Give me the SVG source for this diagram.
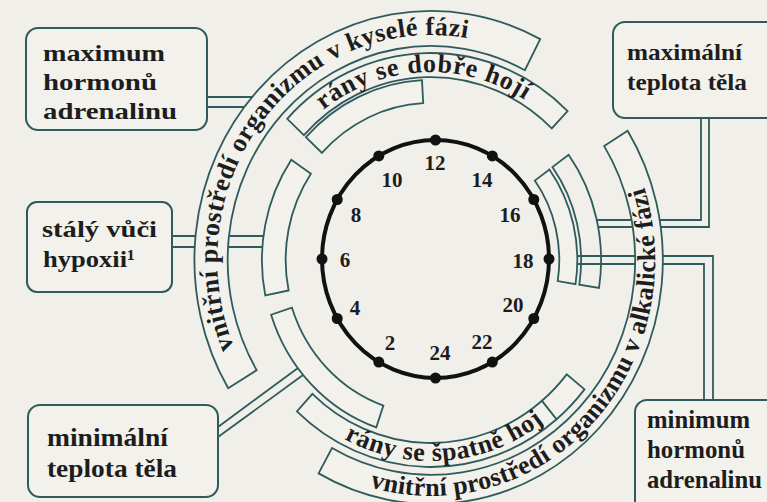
<svg xmlns="http://www.w3.org/2000/svg" width="767" height="502" viewBox="0 0 767 502">
<style>
.bg{fill:#f0efe9}
.box{fill:#f2f1eb;stroke:#2f5b5d;stroke-width:2}
.band{fill:#f2f1eb;stroke:#2f5b5d;stroke-width:1.8}
.open{fill:none;stroke:#2f5b5d;stroke-width:1.8}
.pipe{fill:none;stroke:#2f5b5d;stroke-width:1.8}
.bt{font-family:"Liberation Serif","Times New Roman",serif;font-weight:bold;fill:#1d1d1d}
.arc{font-family:"Liberation Serif","Times New Roman",serif;font-weight:bold;fill:#1d1d1d}
.hr{font-family:"Liberation Serif","Times New Roman",serif;font-weight:bold;font-size:21px;fill:#1d1d1d;text-anchor:middle}
.clk{fill:none;stroke:#111;stroke-width:4}
.dot{fill:#111}
</style>
<defs>
<path id="tpA" d="M239.7,360.4 A213.75,225 0 0 1 480.9,41.2"/>
<path id="tpA2" d="M358.0,483.1 A224.2,236 0 0 0 640.3,175.4"/>
<path id="tpB" d="M322.0,111.1 A178.6,188 0 0 1 526.7,101.3"/>
<path id="tpB2" d="M348.2,441.1 A190.95,201 0 0 0 546.7,419.9"/>
</defs>
<rect class="bg" x="0" y="0" width="767" height="502"/>

<g id="connectors">
<path class="pipe" d="M207,97 H262 M207,107 H262"/>
<path class="pipe" d="M172,236 H264 M172,247 H264"/>
<path class="pipe" d="M701,118 V220 H597 M709,118 V227 H598"/>
<path class="pipe" d="M713,400 V256 H577.5 M704,400 V264 H577.5"/>
<path class="pipe" d="M218,427 L298,368 M218,437 L303,375"/>
</g>

<g id="band-acid">
<path class="band" d="M228.2,388.2 A236.55,249 0 0 1 540.2,39.1 L524.9,70.2 A203.3,214 0 0 0 256.7,370.2 Z"/>
<text class="arc" font-size="26" letter-spacing="0.45"><textPath href="#tpA" startOffset="50%" text-anchor="middle">vnitřní prostředí organizmu v kyselé fázi</textPath></text>
</g>
<g id="band-alkaline">
<path class="band" d="M627.6,130.7 A231.8,244 0 0 1 318.6,473.4 L332.0,448.0 A204.25,215 0 0 0 604.2,146.1 Z"/>
<text class="arc" font-size="26" letter-spacing="0.3"><textPath href="#tpA2" startOffset="50%" text-anchor="middle">vnitřní prostředí organizmu v alkalické fázi</textPath></text>
</g>
<g id="band-heal-good">
<path class="band" d="M287.2,118.8 A196.65,207 0 0 1 567.6,111.1 L551.8,128.4 A173.85,183 0 0 0 303.9,135.2 Z"/>
<text class="arc" font-size="26" letter-spacing="0.8"><textPath href="#tpB" startOffset="50%" text-anchor="middle">rány se dobře hojí</textPath></text>
</g>
<g id="band-heal-bad">
<path class="band" d="M556.6,419.3 A196.65,207 0 0 1 296.9,411.4 L312.4,393.8 A173.85,183 0 0 0 542.0,400.8 Z"/>
<text class="arc" font-size="26" letter-spacing="0.6"><textPath href="#tpB2" startOffset="50%" text-anchor="middle">rány se špatně hojí</textPath></text>
</g>
<g id="band-small-bottom">
<path class="band" d="M584.5,389.4 A196.65,207 0 0 1 556.6,419.3 L542.0,400.8 A173.85,183 0 0 0 566.7,374.4 Z"/>
</g>
<g id="band-top-inner">
<path class="band" d="M305.9,137.2 A171,180 0 0 1 422.0,80.2 L423.2,103.2 A149.15,157 0 0 0 321.9,152.9 Z"/>
</g>
<g id="band-left-inner">
<path class="band" d="M265.3,295.5 A169.1,178 0 0 1 291.3,159.7 L310.9,173.8 A145.35,153 0 0 0 288.6,290.5 Z"/>
</g>
<g id="band-right-1">
<path class="open" d="M568.6,154.8 A170.05,179 0 0 1 599.0,288.0 L579.3,284.7 A150.1,158 0 0 0 552.4,167.1 Z"/>
</g>
<g id="band-right-2">
<path class="band" d="M549.4,169.5 A146.3,154 0 0 1 575.5,284.1 L557.7,281.1 A128.25,135 0 0 0 534.8,180.6 Z"/>
</g>
<g id="band-bottom-left">
<path class="band" d="M376.3,427.4 A168.15,177 0 0 1 271.1,314.7 L291.9,307.6 A146.3,154 0 0 0 383.4,405.6 Z"/>
</g>

<g id="clock">
<ellipse class="clk" cx="435.5" cy="259" rx="113.5" ry="119"/>
<circle class="dot" cx="435.5" cy="140" r="5.5"/>
<circle class="dot" cx="492.3" cy="155.9" r="5.5"/>
<circle class="dot" cx="533.8" cy="199.5" r="5.5"/>
<circle class="dot" cx="549" cy="259" r="5.5"/>
<circle class="dot" cx="533.8" cy="318.5" r="5.5"/>
<circle class="dot" cx="492.3" cy="362.1" r="5.5"/>
<circle class="dot" cx="435.5" cy="378" r="5.5"/>
<circle class="dot" cx="378.8" cy="362.1" r="5.5"/>
<circle class="dot" cx="337.2" cy="318.5" r="5.5"/>
<circle class="dot" cx="322" cy="259" r="5.5"/>
<circle class="dot" cx="337.2" cy="199.5" r="5.5"/>
<circle class="dot" cx="378.8" cy="155.9" r="5.5"/>
<text class="hr" x="435" y="170">12</text>
<text class="hr" x="482" y="187">14</text>
<text class="hr" x="510" y="222">16</text>
<text class="hr" x="523" y="268">18</text>
<text class="hr" x="513" y="312">20</text>
<text class="hr" x="482" y="349">22</text>
<text class="hr" x="440" y="360">24</text>
<text class="hr" x="390" y="350">2</text>
<text class="hr" x="355" y="315">4</text>
<text class="hr" x="345" y="267">6</text>
<text class="hr" x="356" y="222">8</text>
<text class="hr" x="392" y="187">10</text>
</g>

<g id="box-max-adrenalin">
<rect class="box" x="26" y="28" width="181" height="102" rx="12"/>
<text class="bt" font-size="24" x="43" y="61" textLength="122" lengthAdjust="spacingAndGlyphs">maximum</text>
<text class="bt" font-size="24" x="43" y="90" textLength="114" lengthAdjust="spacingAndGlyphs">hormonů</text>
<text class="bt" font-size="24" x="43" y="119" textLength="134" lengthAdjust="spacingAndGlyphs">adrenalinu</text>
</g>
<g id="box-hypoxia">
<rect class="box" x="27" y="202" width="145" height="90" rx="10"/>
<text class="bt" font-size="24" x="42" y="237" textLength="115" lengthAdjust="spacingAndGlyphs">stálý vůči</text>
<text class="bt" font-size="24" x="43" y="267" textLength="92" lengthAdjust="spacingAndGlyphs">hypoxii¹</text>
</g>
<g id="box-max-temp">
<rect class="box" x="613" y="22" width="180" height="96" rx="12"/>
<text class="bt" font-size="24" x="627" y="60" textLength="115" lengthAdjust="spacingAndGlyphs">maximální</text>
<text class="bt" font-size="24" x="627" y="90" textLength="120" lengthAdjust="spacingAndGlyphs">teplota těla</text>
</g>
<g id="box-min-adrenalin">
<rect class="box" x="635" y="400" width="160" height="120" rx="12"/>
<text class="bt" font-size="25" x="647" y="428" textLength="103" lengthAdjust="spacingAndGlyphs">minimum</text>
<text class="bt" font-size="25" x="647" y="458" textLength="98" lengthAdjust="spacingAndGlyphs">hormonů</text>
<text class="bt" font-size="25" x="647" y="488" textLength="115" lengthAdjust="spacingAndGlyphs">adrenalinu</text>
</g>
<g id="box-min-temp">
<rect class="box" x="28" y="405" width="190" height="92" rx="12"/>
<text class="bt" font-size="25" x="47" y="446" textLength="121" lengthAdjust="spacingAndGlyphs">minimální</text>
<text class="bt" font-size="25" x="47" y="477" textLength="130" lengthAdjust="spacingAndGlyphs">teplota těla</text>
</g>
</svg>
